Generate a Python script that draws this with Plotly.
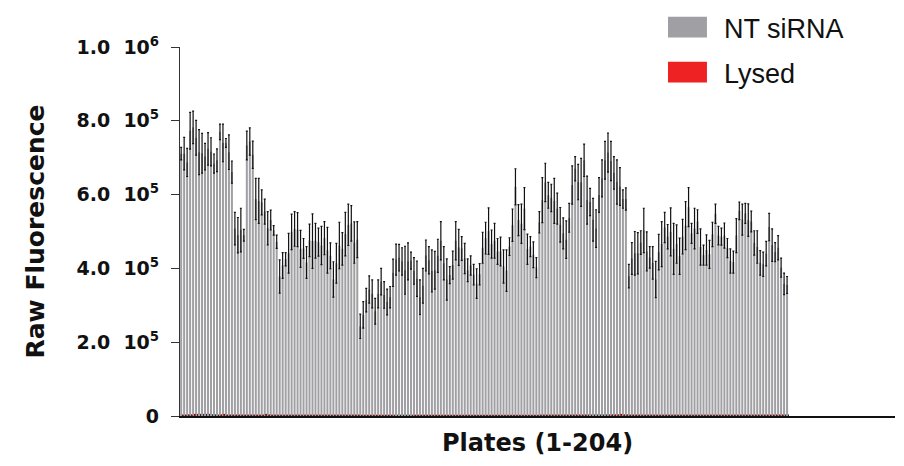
import plotly.graph_objects as go

plates = list(range(1, 205))

# NT siRNA mean raw fluorescence (thousands) and error (thousands)
nt_mean_k = [
    711, 711, 687, 773, 782, 754, 715, 712, 703, 724, 716, 684, 693, 770, 740, 740, 715, 661, 508, 490,
    504, 490, 733, 744, 708, 588, 583, 579, 554, 509, 531, 503, 472, 378, 408, 425, 441, 499, 507, 505,
    453, 454, 416, 476, 474, 475, 471, 462, 482, 449, 434, 370, 414, 462, 453, 493, 518, 522, 470, 478,
    243, 274, 314, 343, 331, 284, 331, 364, 328, 309, 322, 388, 424, 429, 419, 395, 419, 421, 393, 372,
    322, 353, 435, 422, 393, 395, 434, 475, 414, 370, 382, 409, 475, 457, 454, 427, 395, 408, 383, 359,
    384, 456, 482, 501, 466, 475, 446, 446, 405, 394, 459, 517, 621, 531, 521, 562, 452, 459, 437, 402,
    525, 585, 633, 598, 591, 583, 562, 518, 495, 478, 537, 626, 670, 634, 633, 693, 585, 580, 532, 508,
    599, 644, 693, 714, 691, 659, 634, 622, 588, 588, 379, 427, 441, 441, 470, 503, 446, 430, 415, 370,
    444, 466, 511, 486, 499, 453, 466, 433, 486, 516, 566, 495, 508, 527, 458, 436, 450, 438, 492, 548,
    489, 486, 489, 455, 420, 417, 489, 556, 532, 549, 531, 527, 469, 458, 415, 411, 440, 512, 463, 444,
    456, 402, 358, 355,
]
nt_err_k = [
    17, 44, 38, 50, 44, 47, 61, 54, 36, 44, 38, 26, 31, 21, 51, 12, 47, 30, 44, 48,
    59, 16, 39, 37, 37, 56, 61, 34, 34, 45, 27, 13, 18, 45, 35, 18, 54, 48, 47, 46,
    50, 27, 43, 44, 74, 47, 38, 52, 45, 62, 35, 48, 54, 63, 44, 59, 56, 48, 56, 49,
    33, 36, 32, 37, 38, 35, 38, 36, 36, 35, 29, 37, 42, 36, 37, 65, 50, 23, 36, 48,
    47, 47, 42, 37, 57, 51, 45, 52, 45, 56, 23, 38, 52, 49, 32, 41, 31, 26, 28, 40,
    29, 42, 43, 63, 38, 47, 35, 39, 45, 56, 24, 44, 49, 42, 53, 57, 41, 27, 35, 27,
    29, 61, 52, 35, 37, 61, 42, 47, 42, 51, 39, 52, 33, 48, 65, 44, 65, 37, 58, 51,
    47, 50, 51, 53, 53, 44, 60, 51, 25, 30, 32, 43, 59, 56, 32, 60, 53, 29, 44, 49,
    48, 61, 41, 33, 65, 69, 52, 49, 47, 65, 53, 27, 55, 32, 49, 27, 41, 38, 33, 26,
    25, 23, 34, 26, 33, 30, 46, 24, 42, 27, 44, 28, 33, 44, 33, 33, 33, 37, 44, 26,
    33, 26, 29, 23,
]

# Lysed control (thousands), near background
lysed_mean_k = [
    1.5, 1.5, 2, 2, 3, 3, 3, 3, 3, 3, 2, 2, 1.5, 2, 3, 1.5, 1.5, 1.5, 1.5, 1.5,
    1.5, 1.5, 1.5, 1.5, 1.5, 1.5, 1.5, 1.5, 3, 2, 1.5, 1.5, 1.5, 1.5, 1.5, 1.5, 1.5, 1.5, 1.5, 1.5,
    1.5, 1.5, 1.5, 1.5, 1.5, 1.5, 1.5, 1.5, 1.5, 1.5, 1.5, 1.5, 1.5, 1.5, 1.5, 1.5, 1.5, 1.5, 1.5, 1.5,
    1, 1, 1, 1, 1, 1, 1, 1, 1, 1, 1, 1, 1, 1, 1, 1, 1, 1, 1, 1,
    1, 1, 1, 1, 1, 1, 1, 1, 1, 1, 1, 1, 1, 1, 1, 1, 1, 1, 1, 1,
    1, 1, 1, 1, 1, 1, 1, 1, 1, 1, 1, 1, 1, 1, 1, 1, 1, 1, 1, 1,
    1.5, 1.5, 1.5, 1.5, 1.5, 1.5, 1.5, 1.5, 1.5, 1.5, 1.5, 1.5, 1.5, 1.5, 1.5, 1.5, 1.5, 1.5, 1.5, 1.5,
    1.5, 1.5, 1.5, 1.5, 2, 2, 2, 3, 2, 2, 1.5, 1.5, 1.5, 1.5, 1.5, 1.5, 1.5, 1.5, 1.5, 1.5,
    1.5, 1.5, 1.5, 1.5, 1.5, 1.5, 1.5, 1.5, 1.5, 1.5, 1.5, 1.5, 1.5, 1.5, 1.5, 1.5, 1.5, 1.5, 1.5, 1.5,
    1.5, 1.5, 1.5, 1.5, 1.5, 1.5, 1.5, 1.5, 1.5, 1.5, 1.5, 1.5, 1.5, 1.5, 1.5, 1.5, 1.5, 1.5, 1.5, 1.5,
    1.5, 1.5, 1.5, 1.5,
]
lysed_err_k = [1.5] * 204

y_tick_vals = [0, 200000, 400000, 600000, 800000, 1000000]
y_tick_text = ["0", "2.0  10<sup>5</sup>", "4.0  10<sup>5</sup>", "6.0  10<sup>5</sup>",
               "8.0  10<sup>5</sup>", "1.0  10<sup>6</sup>"]

series_names = ["NT siRNA", "Lysed"]
series_colors = ["#a0a0a4", "#ee2222"]

nt_mean = [v * 1000 for v in nt_mean_k]
nt_err = [v * 1000 for v in nt_err_k]
ly_mean = [v * 1000 for v in lysed_mean_k]
ly_err = [v * 1000 for v in lysed_err_k]

bold_family = "DejaVu Sans, Liberation Sans, Arial, sans-serif"
legend_family = "Liberation Sans, Arial, sans-serif"

fig = go.Figure()
fig.add_trace(go.Bar(
    x=plates, y=nt_mean, name=series_names[0],
    marker=dict(color=series_colors[0], line=dict(width=0)),
    width=0.68, offset=-0.5,
    error_y=dict(type="data", array=nt_err, visible=True, color="#111111",
                 thickness=1.2, width=1),
    showlegend=False,
))
fig.add_trace(go.Bar(
    x=plates, y=ly_mean, name=series_names[1],
    marker=dict(color=series_colors[1], line=dict(width=0)),
    width=0.3, offset=0.18,
    error_y=dict(type="data", array=ly_err, visible=True, color="#222222",
                 thickness=0.8, width=0.5),
    showlegend=False,
))

# custom legend (large swatches)
legend_y = [1.054, 0.932]
for name, col, yc in zip(series_names, series_colors, legend_y):
    fig.add_shape(type="rect", xref="paper", yref="paper",
                  x0=0.6825, x1=0.737, y0=yc - 0.028, y1=yc + 0.028,
                  fillcolor=col, line=dict(width=0))
    fig.add_annotation(xref="paper", yref="paper", x=0.758, y=yc,
                       text=name, showarrow=False, xanchor="left", yanchor="middle",
                       yshift=-2,
                       font=dict(family=legend_family, size=27, color="#111111"))

# axis titles
fig.add_annotation(xref="paper", yref="paper", x=0, y=0.5, xshift=-145,
                   text="<b>Raw Fluorescence</b>", textangle=-90, showarrow=False,
                   xanchor="center", yanchor="middle",
                   font=dict(family=bold_family, size=25, color="#111111"))
fig.add_annotation(xref="paper", yref="paper", x=0.5, y=0, yshift=-27,
                   text="<b>Plates (1-204)</b>", showarrow=False,
                   xanchor="center", yanchor="middle",
                   font=dict(family=bold_family, size=24, color="#111111"))

fig.update_layout(
    width=896, height=458,
    margin=dict(l=172, r=9, t=39, b=50, autoexpand=False),
    plot_bgcolor="white", paper_bgcolor="white",
    barmode="overlay",
    xaxis=dict(range=[0.45, 240], showticklabels=False, ticks="",
               showgrid=False, zeroline=False, showline=True,
               linecolor="#111111", linewidth=1.6),
    yaxis=dict(range=[0, 1000000], tickvals=y_tick_vals, ticktext=y_tick_text,
               ticks="outside", ticklen=8, tickwidth=1.2, tickcolor="#333333",
               ticklabelstandoff=8,
               showgrid=False, zeroline=False, showline=True,
               linecolor="#333333", linewidth=1.2,
               tickfont=dict(family=bold_family, size=19, color="#111111", weight="bold")),
)

fig.write_html("out.html")
